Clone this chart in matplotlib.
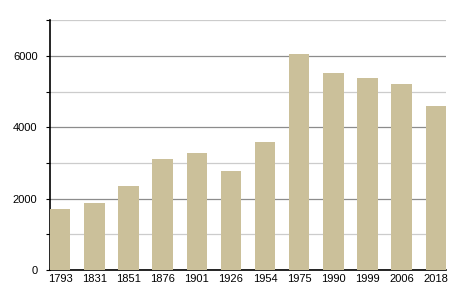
import matplotlib
matplotlib.use("Agg")
import matplotlib.pyplot as plt
from matplotlib.ticker import MultipleLocator

plt.rcParams['font.family'] = ['Liberation Sans', 'DejaVu Sans']

years = ['1793', '1831', '1851', '1876', '1901', '1926', '1954',
         '1975', '1990', '1999', '2006', '2018']
population = [1710, 1885, 2350, 3110, 3275, 2770, 3585,
              6050, 5515, 5375, 5210, 4590]

fig = plt.figure(figsize=(4.55, 3.0), dpi=100)
ax = fig.add_axes([50 / 455, 30 / 300, 396 / 455, 250 / 300])

ax.bar(range(len(years)), population, width=0.6, color='#cbc09a', zorder=3)

ax.set_xlim(-0.3, len(years) - 0.7)
ax.set_ylim(0, 7010)
ax.set_xticks(range(len(years)))
ax.set_xticklabels(years)
ax.yaxis.set_major_locator(MultipleLocator(2000))
ax.yaxis.set_minor_locator(MultipleLocator(1000))

ax.grid(axis='y', which='major', color='#8c8c8c', linewidth=0.9, zorder=0)
ax.grid(axis='y', which='minor', color='#cccccc', linewidth=0.9, zorder=0)

for side in ['top', 'right']:
    ax.spines[side].set_visible(False)
ax.spines['left'].set_linewidth(1.2)
ax.spines['bottom'].set_linewidth(1.2)

ax.tick_params(axis='y', which='both', length=3, width=0.8, labelsize=8, pad=6)
ax.tick_params(axis='x', length=0, labelsize=8, pad=3)

fig.savefig('out.png', dpi=100)
